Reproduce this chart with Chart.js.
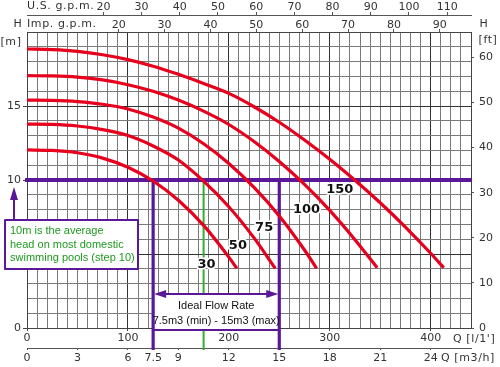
<!DOCTYPE html>
<html><head><meta charset="utf-8">
<script src="https://cdn.jsdelivr.net/npm/chart.js@4.4.0/dist/chart.umd.min.js"></script>
<style>html,body{margin:0;padding:0;background:#fff}</style>
</head><body>
<canvas id="c" width="500" height="367"></canvas>
<script>
// ---- data: flow in l/min, head in m ----
const flow30  = [0,25,50,75,100,125,150,175,200,208];
const head30  = [12.03,12.0,11.84,11.48,10.86,9.93,8.63,6.93,4.79,4.03];
const flow50  = [0,25,50,75,100,125,150,175,200,225,246];
const head50  = [13.78,13.76,13.65,13.4,13.0,12.3,11.35,9.92,8.19,6.09,4.03];
const flow75  = [0,25,50,75,100,125,150,175,200,225,250,275,287];
const head75  = [15.4,15.38,15.3,15.12,14.8,14.25,13.5,12.45,11.12,9.5,7.57,5.27,4.03];
const flow100 = [0,25,50,75,100,125,150,175,200,225,250,275,300,325,347];
const head100 = [17.05,17.03,16.95,16.76,16.44,16.0,15.4,14.65,13.75,12.6,11.25,9.7,7.95,5.97,4.07];
const flow150 = [0,25,50,75,100,125,150,175,200,225,250,275,300,325,350,375,400,413];
const head150 = [18.85,18.81,18.69,18.46,18.13,17.69,17.14,16.52,15.85,14.95,13.9,12.7,11.4,9.98,8.46,6.82,5.05,4.07];
const curveNames = ['30','50','75','100','150'];

// tick labels
const lpmTicks = [0,100,200,300,400];
const m3hTicks = [0,3,6,7.5,9,12,15,18,21,24];
const impTicks = [20,30,40,50,60,70,80,90];
const usTicks  = [20,30,40,50,60,70,80,90,100,110];
const mTicks   = [0,5,10,15];
const ftTicks  = [0,10,20,30,40,50,60];

// reference values
const refHead = 10;          // m
const idealMin = 7.5;        // m3/h
const idealMax = 15;         // m3/h
const chosenFlow = 10.5;     // m3/h
const Q_MAX = 440;           // l/min
const H_MAX = 20;            // m

// ---- styling / layout (not data) ----
const RED = '#e6001e', PURPLE = '#5a1899', GREEN = '#2fae2f';
const labelAnchor = {q:[178,209,235,277,310], h:[4.26,5.54,6.76,7.97,9.32]};
const FONT = "'DejaVu Sans', Verdana, sans-serif";
const SANS = "'Liberation Sans', Arial, sans-serif";

Chart.defaults.font.family = FONT;
Chart.defaults.font.size = 11;
Chart.defaults.color = '#333';

function seq(a, b, s) { const r = []; for (let v = a; v <= b + 1e-9; v += s) r.push(Math.round(v * 1000) / 1000); return r; }
function isMul(v, m) { return Math.abs(v / m - Math.round(v / m)) < 1e-6; }
function has(arr, v) { return arr.some(a => Math.abs(a - v) < 1e-6); }
const MINOR = '#7a7a7a', MAJOR = '#333333', CLEAR = 'rgba(0,0,0,0)';

function pts(qs, hs) { return qs.map((q, i) => ({x: q, y: hs[i]})); }
const series = [[flow30,head30],[flow50,head50],[flow75,head75],[flow100,head100],[flow150,head150]];

const datasets = series.map((s, i) => ({
  label: curveNames[i], data: pts(s[0], s[1]),
  borderColor: RED, borderWidth: 3.2, pointRadius: 0,
  cubicInterpolationMode: 'monotone', fill: false
}));

function fixH(h) { return s => { s.height = h; s.paddingLeft = 0; s.paddingRight = 0; }; }
function fixW(w) { return s => { s.width = w; s.paddingTop = 0; s.paddingBottom = 0; }; }
function setTicks(arr) { return s => { s.ticks = arr.map(v => ({value: v})); }; }

function seg(ctx, x1, y1, x2, y2) { ctx.beginPath(); ctx.moveTo(x1, y1); ctx.lineTo(x2, y2); ctx.stroke(); }
function tri(ctx, a, b, c) { ctx.beginPath(); ctx.moveTo(a[0], a[1]); ctx.lineTo(b[0], b[1]); ctx.lineTo(c[0], c[1]); ctx.closePath(); ctx.fill(); }

const underlay = {
  id: 'underlay',
  beforeDatasetsDraw(chart) {
    const {ctx, chartArea: ca, scales} = chart;
    const yHead = scales.y.getPixelForValue(refHead);
    const xLo = scales.xM3.getPixelForValue(idealMin);
    const xHi = scales.xM3.getPixelForValue(idealMax);
    const xSel = scales.xM3.getPixelForValue(chosenFlow);
    const yLow = scales.xM3.top + 2;
    const yArrow = scales.y.getPixelForValue(2.3);
    const yBoxBot = ca.bottom + 2;
    ctx.save();
    // chosen flow (green)
    ctx.strokeStyle = GREEN; ctx.lineWidth = 2;
    seg(ctx, xSel, yHead, xSel, yLow);
    // ideal flow box
    ctx.fillStyle = '#fff';
    ctx.fillRect(xLo, yArrow, xHi - xLo, yBoxBot - yArrow);
    ctx.strokeStyle = PURPLE; ctx.fillStyle = PURPLE;
    ctx.lineWidth = 2;
    seg(ctx, xLo, yBoxBot, xHi, yBoxBot);
    seg(ctx, xLo + 4, yArrow, xHi - 4, yArrow);
    tri(ctx, [xLo + 1, yArrow], [xLo + 13, yArrow - 4], [xLo + 13, yArrow + 4]);
    tri(ctx, [xHi - 1, yArrow], [xHi - 13, yArrow - 4], [xHi - 13, yArrow + 4]);
    // verticals and head line
    ctx.lineWidth = 3.2;
    seg(ctx, xLo, yHead, xLo, yLow);
    seg(ctx, xHi, yHead, xHi, yLow);
    ctx.lineWidth = 4;
    seg(ctx, ca.left - 2, yHead, ca.right + 1, yHead);
    // box text
    ctx.fillStyle = '#111';
    ctx.font = '11px ' + SANS;
    ctx.textAlign = 'center'; ctx.textBaseline = 'middle';
    const cx = (xLo + xHi) / 2;
    ctx.fillText('Ideal Flow Rate', cx, yArrow + 12.5);
    ctx.fillText('7.5m3 (min) - 15m3 (max)', cx, yArrow + 27.5);
    ctx.restore();
  },
  afterDatasetsDraw(chart) {
    const {ctx, scales} = chart;
    const yHead = scales.y.getPixelForValue(refHead);
    ctx.save();
    // curve labels
    ctx.font = 'bold 13px ' + FONT;
    ctx.textAlign = 'center'; ctx.textBaseline = 'middle';
    ctx.lineJoin = 'round';
    curveNames.forEach((n, i) => {
      const px = scales.x.getPixelForValue(labelAnchor.q[i]);
      const py = scales.y.getPixelForValue(labelAnchor.h[i]);
      ctx.strokeStyle = '#fff'; ctx.lineWidth = 3.5;
      ctx.strokeText(n, px, py);
      ctx.fillStyle = '#111';
      ctx.fillText(n, px, py);
    });
    // note box
    const bx = 5, by = yHead + 40, bw = 133, bh = 49;
    ctx.fillStyle = '#fff';
    ctx.fillRect(bx, by, bw, bh);
    ctx.strokeStyle = PURPLE; ctx.lineWidth = 2;
    ctx.strokeRect(bx, by, bw, bh);
    ctx.fillStyle = PURPLE;
    seg(ctx, 14, by, 14, yHead + 18);
    tri(ctx, [14, yHead + 7], [10, yHead + 20], [18, yHead + 20]);
    ctx.fillStyle = '#1f9a1f';
    ctx.font = '11px ' + SANS;
    ctx.textAlign = 'left'; ctx.textBaseline = 'middle';
    ctx.fillText('10m is the average', 10, by + 11);
    ctx.fillText('head on most domestic', 10, by + 24.5);
    ctx.fillText('swimming pools (step 10)', 10, by + 38);
    // axis captions
    ctx.fillStyle = '#333';
    ctx.font = '11px ' + FONT;
    if ('letterSpacing' in ctx) ctx.letterSpacing = '0.6px';
    const caps = [
      ['U.S. g.p.m.', 27, 6.5, 'left'],
      ['Imp. g.p.m.', 27, 24.5, 'left'],
      ['H', 18, 24.5, 'center'],
      ['[m]', 11, 42, 'center'],
      ['H', 484, 24.5, 'center'],
      ['[ft]', 488, 40, 'center'],
      ["Q [l/1']", 453, 339.5, 'left'],
      ['Q [m3/h]', 441, 358, 'left']
    ];
    caps.forEach(c => { ctx.textAlign = c[3]; ctx.fillText(c[0], c[1], c[2]); });
    ctx.restore();
  }
};

new Chart(document.getElementById('c'), {
  type: 'line',
  data: { datasets },
  plugins: [underlay],
  options: {
    responsive: false, animation: false, devicePixelRatio: 1,
    parsing: false,
    layout: { padding: 0 },
    plugins: { legend: { display: false }, tooltip: { enabled: false }, title: { display: false } },
    scales: {
      x: {
        type: 'linear', position: 'bottom', min: 0, max: Q_MAX,
        afterBuildTicks: setTicks(seq(0, Q_MAX, 10)), afterFit: fixH(20),
        grid: { color: c => (c.tick && isMul(c.tick.value, 100)) ? MAJOR : MINOR, lineWidth: 1, tickLength: 3,
                tickColor: c => (c.tick && has(lpmTicks, c.tick.value)) ? '#444' : CLEAR },
        border: { color: '#444', width: 1 },
        ticks: { autoSkip: false, maxRotation: 0, padding: 1, callback: v => has(lpmTicks, v) ? String(v) : '' }
      },
      xM3: {
        type: 'linear', position: 'bottom', weight: 1, min: 0, max: Q_MAX * 0.06,
        afterBuildTicks: setTicks(m3hTicks), afterFit: fixH(19),
        grid: { drawOnChartArea: false, tickLength: 2, tickColor: '#555' },
        border: { color: '#555', width: 1 },
        ticks: { autoSkip: false, maxRotation: 0, padding: 2, callback: v => String(v) }
      },
      xImp: {
        type: 'linear', position: 'top', weight: 0, min: 0, max: Q_MAX / 4.54609,
        afterBuildTicks: setTicks(impTicks), afterFit: fixH(17),
        grid: { drawOnChartArea: false, tickLength: 3, tickColor: '#555' },
        border: { color: '#444', width: 1 },
        ticks: { autoSkip: false, maxRotation: 0, padding: -3, callback: v => String(v) }
      },
      xUS: {
        type: 'linear', position: 'top', weight: 1, min: 0, max: Q_MAX / 3.78541,
        afterBuildTicks: setTicks(usTicks), afterFit: fixH(15),
        grid: { drawOnChartArea: false, tickLength: 3, tickColor: '#555' },
        border: { color: '#555', width: 1 },
        ticks: { autoSkip: false, maxRotation: 0, padding: -1.5, callback: v => String(v) }
      },
      y: {
        type: 'linear', position: 'left', min: 0, max: H_MAX,
        afterBuildTicks: setTicks(seq(0, H_MAX, 1)), afterFit: fixW(27),
        grid: { color: c => (c.tick && isMul(c.tick.value, 5)) ? MAJOR : MINOR, lineWidth: 1, tickLength: 4,
                tickColor: c => (c.tick && has(mTicks, c.tick.value)) ? '#444' : CLEAR },
        border: { color: '#444', width: 1 },
        ticks: { autoSkip: false, padding: 2, callback: v => has(mTicks, v) ? String(v) : '' }
      },
      yFt: {
        type: 'linear', position: 'right', min: 0, max: H_MAX / 0.3048,
        afterBuildTicks: setTicks(ftTicks), afterFit: fixW(29),
        grid: { drawOnChartArea: false, tickLength: 3, tickColor: '#555' },
        border: { color: '#444', width: 1 },
        ticks: { autoSkip: false, padding: 5, callback: v => String(v) }
      }
    }
  }
});
</script>
</body></html>
